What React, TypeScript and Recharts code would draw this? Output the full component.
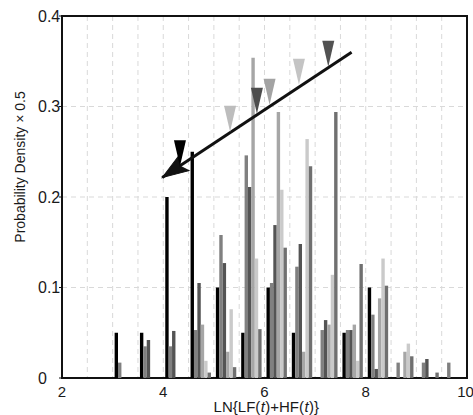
import React from 'react';
import { ComposedChart, Bar, Line, Scatter, XAxis, YAxis, CartesianGrid, ReferenceArea, Label } from 'recharts';

// histogram bins (bin centres, width 0.5)
const binCenters = [3.25, 3.75, 4.25, 4.75, 5.25, 5.75, 6.25, 6.75, 7.25, 7.75, 8.25, 8.75, 9.25, 9.75];

// six distributions, probability density x 0.5
const series1 = [0.05, 0.05, 0.2, 0.25, 0.1, 0.05, 0.1, 0.05, 0, 0.05, 0.1, 0, 0, 0];
const series2 = [0.017, 0.035, 0.035, 0.053, 0.158, 0.246, 0.105, 0.123, 0.053, 0.053, 0.07, 0.017, 0.017, 0.017];
const series3 = [0, 0.042, 0.052, 0.105, 0.127, 0.211, 0.169, 0.148, 0.064, 0.053, 0.01, 0, 0.021, 0];
const series4 = [0, 0, 0, 0.059, 0.029, 0.354, 0.294, 0.029, 0.059, 0.059, 0.088, 0.029, 0, 0];
const series5 = [0, 0, 0, 0.019, 0.076, 0.132, 0.208, 0.264, 0.114, 0.019, 0.132, 0.038, 0, 0];
const series6 = [0, 0, 0, 0.006, 0.012, 0.054, 0.144, 0.234, 0.294, 0.126, 0.102, 0.024, 0.006, 0];

const seriesColors = ['#000000', '#808080', '#545454', '#a6a6a6', '#cacaca', '#707070'];

// triangle markers (tip position) along the trend arrow
const markerX = [4.33, 5.32, 5.85, 6.1, 6.68, 7.26];
const markerY = [0.234, 0.272, 0.292, 0.302, 0.324, 0.344];
const markerColors = ['#000000', '#bdbdbd', '#4d4d4d', '#a3a3a3', '#c4c4c4', '#525252'];

// trend arrow, start -> tip
const arrowX = [7.72, 3.98];
const arrowY = [0.36, 0.2215];

const xTicks = [2, 4, 6, 8, 10];
const yTicks = [0, 0.1, 0.2, 0.3, 0.4];
const xGrid = [2.5, 3, 3.5, 4, 4.5, 5, 5.5, 6, 6.5, 7, 7.5, 8, 8.5, 9, 9.5];
const yGrid = [0.1, 0.2, 0.3];

// x label pieces: [text, italic, width in em (Arial metrics)]
const xLabelParts: [string, boolean, number][] = [
  ['LN{LF(', false, 3.112],
  ['t', true, 0.278],
  [')+HF(', false, 2.583],
  ['t', true, 0.278],
  [')}', false, 0.667],
];

const histData = binCenters.map((x, i) => ({
  x,
  s1: series1[i],
  s2: series2[i],
  s3: series3[i],
  s4: series4[i],
  s5: series5[i],
  s6: series6[i],
}));
const seriesKeys = ['s1', 's2', 's3', 's4', 's5', 's6'];

const markerData = markerX.map((x, i) => ({ x, y: markerY[i], color: markerColors[i] }));
const arrowData = arrowX.map((x, i) => ({ x, y: arrowY[i] }));

const FONT = '"Liberation Sans", Arial, Helvetica, sans-serif';
const TEXT = '#1a1a1a';

function YTick(props: any) {
  const { x, y, payload } = props;
  return (
    <text x={x - 19} y={y} dy="0.35em" textAnchor="start" fontSize={16} fontFamily={FONT} fill={TEXT}>
      {payload.value}
    </text>
  );
}

function Triangle(props: any) {
  const { cx, cy, payload } = props;
  const pts = `${cx - 6},${cy - 26} ${cx + 6},${cy - 26} ${cx},${cy}`;
  return <polygon points={pts} fill={payload.color} />;
}

function ArrowHead(props: any) {
  const { cx, cy, index, points } = props;
  if (index !== arrowData.length - 1) return <g key={`a${index}`} />;
  let ang = Math.atan2(125, -189);
  if (points && points.length > 1) {
    const p0 = points[points.length - 2];
    ang = Math.atan2(cy - p0.y, cx - p0.x);
  }
  const deg = (ang * 180) / Math.PI;
  return (
    <g key={`a${index}`} transform={`translate(${cx},${cy}) rotate(${deg})`}>
      <polygon points="0,0 -26,-9 -21,0 -26,9" fill="#111" stroke="#111" strokeWidth={1} strokeLinejoin="miter" />
    </g>
  );
}

function YLabel(props: any) {
  const { viewBox } = props;
  const x = viewBox.x + 20;
  const y = viewBox.y + viewBox.height / 2 - 30;
  return (
    <text x={x} y={y} transform={`rotate(-90, ${x}, ${y})`} textAnchor="middle" dominantBaseline="central"
      fontSize={14} fontFamily={FONT} fill={TEXT}>
      Probability Density × 0.5
    </text>
  );
}

function XLabel(props: any) {
  const { viewBox } = props;
  const fs = 15;
  const total = xLabelParts.reduce((s, p) => s + p[2] * fs + 0.4, 0);
  let cur = viewBox.x + viewBox.width / 2 + 2 - total / 2;
  const y = viewBox.y + 34;
  return (
    <g>
      {xLabelParts.map(([txt, it, w], i) => {
        const el = (
          <text key={i} x={cur} y={y} textAnchor="start" fontSize={fs} fontFamily={FONT}
            fontStyle={it ? 'italic' : 'normal'} fill={TEXT}>
            {txt}
          </text>
        );
        cur += w * fs + 0.4;
        return el;
      })}
    </g>
  );
}

export default function App() {
  return (
    <div style={{ position: 'absolute', left: 0, top: 0, width: 473, height: 415, background: '#fff' }}>
      <ComposedChart
        width={473}
        height={415}
        data={histData}
        margin={{ top: 16, right: 6, bottom: 0, left: 0 }}
        barGap={0}
      >
        <CartesianGrid
          stroke="#d9d9d9"
          strokeDasharray="5 4"
          verticalValues={xGrid}
          horizontalValues={yGrid}
        />
        <XAxis
          dataKey="x"
          type="number"
          domain={[2, 10]}
          ticks={xTicks}
          height={37}
          axisLine={false}
          tickLine={false}
          tickMargin={2}
          tick={{ fontSize: 15, fontFamily: FONT, fill: TEXT }}
        >
          <Label content={XLabel} />
        </XAxis>
        {/* hidden twin axis for the arrow and markers, so they don't shrink the bar band */}
        <XAxis xAxisId="over" dataKey="x" type="number" domain={[2, 10]} hide />
        <YAxis
          type="number"
          domain={[0, 0.4]}
          ticks={yTicks}
          width={62}
          axisLine={false}
          tickLine={{ stroke: '#111' }}
          tickSize={3}
          tickMargin={2}
          tick={YTick}
        >
          <Label content={YLabel} />
        </YAxis>
        {seriesKeys.map((k, i) => (
          <Bar key={k} dataKey={k} fill={seriesColors[i]} barSize={3.4} isAnimationActive={false} />
        ))}
        <Line
          xAxisId="over"
          data={arrowData}
          dataKey="y"
          type="linear"
          stroke="#111"
          strokeWidth={3}
          dot={ArrowHead}
          activeDot={false}
          isAnimationActive={false}
        />
        <Scatter xAxisId="over" data={markerData} dataKey="y" shape={Triangle} isAnimationActive={false} />
        <ReferenceArea x1={2} x2={10} y1={0} y2={0.4} fill="none" fillOpacity={0} stroke="#111" strokeWidth={2} />
      </ComposedChart>
    </div>
  );
}
